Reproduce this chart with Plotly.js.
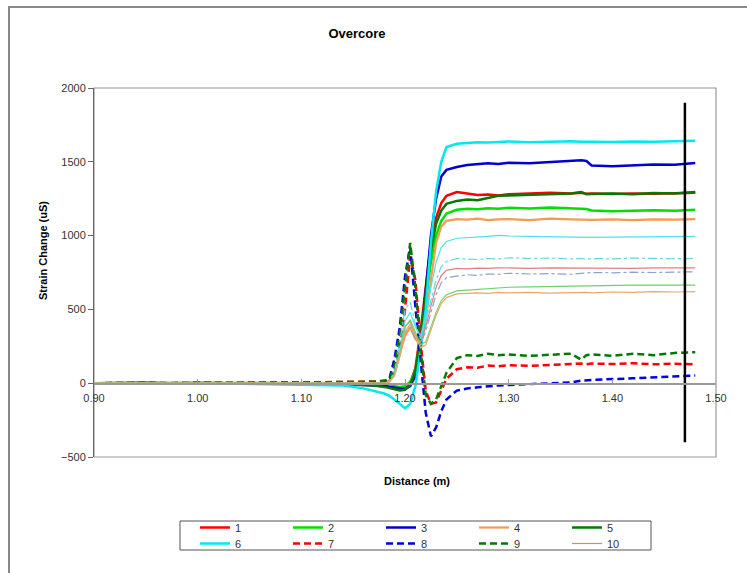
<!DOCTYPE html>
<html>
<head>
<meta charset="utf-8">
<script src="https://cdn.plot.ly/plotly-3.0.1.min.js"></script>
<style>html,body{margin:0;padding:0;background:#fff;}#chart{width:747px;height:573px;}</style>
</head>
<body>
<div id="chart"></div>
<script>
// Distance (m)
const distance = [0.90,0.95,1.00,1.05,1.10,1.14,1.16,1.17,1.18,1.185,
                  1.19,1.195,1.20,1.205,1.21,1.215,1.22,1.225,1.23,1.235,
                  1.24,1.25,1.26,1.27,1.28,1.29,1.30,1.32,1.34,1.36,
                  1.37,1.375,1.38,1.40,1.42,1.44,1.46,1.48];

const s1 = [0,3,-2,2,0,-5,-8,-10,-15,-20,
            -25,-30,-25,0,100,350,650,950,1120,1220,
            1270,1295,1285,1275,1278,1272,1280,1285,1290,1286,
            1290,1283,1285,1282,1286,1283,1288,1290];
const s2 = [0,-2,3,0,2,-3,-5,-8,-12,-15,
            -20,-25,-20,10,80,300,550,820,1000,1100,
            1150,1175,1182,1178,1186,1182,1188,1184,1190,1186,
            1185,1180,1170,1165,1168,1172,1168,1175];
const s3 = [0,2,-3,0,-2,-5,-10,-12,-18,-25,
            -30,-38,-40,-20,50,250,600,1000,1250,1400,
            1445,1465,1478,1482,1490,1485,1493,1490,1498,1502,
            1510,1505,1475,1470,1478,1482,1480,1492];
const s4 = [0,0,2,-2,0,-3,-5,-5,0,20,
            80,200,320,380,300,260,420,700,950,1060,
            1100,1112,1108,1115,1105,1110,1112,1105,1115,1110,
            1108,1112,1106,1110,1105,1110,1108,1112];
const s5 = [0,-2,2,0,-3,-8,-12,-15,-25,-35,
            -42,-50,-45,-10,80,320,600,900,1080,1170,
            1215,1235,1245,1240,1255,1270,1272,1275,1280,1285,
            1295,1280,1282,1285,1280,1288,1285,1295];
const s6 = [0,-3,0,-5,-8,-15,-35,-50,-70,-85,
            -110,-140,-170,-140,-20,220,500,950,1300,1500,
            1600,1622,1628,1632,1630,1635,1638,1632,1636,1640,
            1635,1638,1636,1634,1638,1636,1640,1642];
const s7 = [0,2,-3,0,5,5,8,10,12,15,
            80,250,500,860,700,280,-50,-140,-130,-50,
            30,95,108,105,120,115,122,118,125,130,
            133,128,133,130,135,128,132,128];
const s8 = [0,-2,3,0,2,5,3,5,12,30,
            170,380,720,925,520,150,-200,-360,-300,-190,
            -110,-50,-36,-28,-20,-15,-12,-6,0,5,
            18,20,25,28,33,38,42,52];
const s9 = [0,3,0,-2,5,5,8,10,18,20,
            120,330,650,950,650,230,-80,-140,-110,-20,
            70,170,190,185,200,190,195,185,195,200,
            160,190,195,185,200,190,205,210];
const s10 = [0,0,0,0,0,-3,-5,-5,0,10,
             60,200,380,420,320,280,380,520,650,730,
             765,778,775,780,778,782,780,778,782,780,
             778,780,782,780,778,782,780,782];
const s11 = [0,0,0,0,-2,-5,-8,-8,-5,10,
             60,220,420,480,380,320,450,650,820,920,
             960,982,985,990,995,1002,998,995,992,990,
             992,990,988,990,992,990,992,995];
const s12 = [0,0,0,0,0,-3,-5,-5,0,15,
             80,280,500,550,400,300,420,560,700,790,
             825,845,840,838,845,842,850,845,848,842,
             845,840,845,842,848,845,843,845];
const s13 = [0,0,0,0,0,-3,-5,-5,0,10,
             50,180,340,380,300,270,350,480,600,680,
             715,725,735,730,740,738,745,740,742,738,
             745,748,750,748,752,750,752,755];
const s14 = [0,0,0,0,0,-3,-5,-5,0,10,
             60,200,380,430,350,260,280,380,480,560,
             600,625,630,632,640,645,650,652,655,658,
             660,660,662,662,664,665,665,665];
const s15 = [0,0,0,0,0,-3,-5,-5,0,8,
             50,180,350,400,320,240,260,360,460,540,
             580,605,610,612,608,615,612,615,610,615,
             618,615,612,618,615,620,618,620];

const seriesNames = ['1','2','3','4','5','6','7','8','9','10','11','12','13','14','15'];
const seriesValues = [s1,s2,s3,s4,s5,s6,s7,s8,s9,s10,s11,s12,s13,s14,s15];

// marker line (position of the vertical black line)
const markerX = [1.47, 1.47];
const markerY = [1900, -400];

const xTicks = [0.90,1.00,1.10,1.20,1.30,1.40,1.50];
const yTicks = [-500,0,500,1000,1500,2000];

const styles = [
  {color:'#ff0000', width:2.5, dash:'solid'},
  {color:'#00e000', width:2.5, dash:'solid'},
  {color:'#0000d0', width:2.5, dash:'solid'},
  {color:'#f59a50', width:2.2, dash:'solid'},
  {color:'#007a00', width:2.5, dash:'solid'},
  {color:'#00e8f0', width:2.5, dash:'solid'},
  {color:'#ff0000', width:2.5, dash:'7px,4px'},
  {color:'#0000e0', width:2.5, dash:'7px,4px'},
  {color:'#007a00', width:2.5, dash:'7px,4px'},
  {color:'#e08080', width:1.2, dash:'solid'},
  {color:'#50e0e8', width:1.2, dash:'solid'},
  {color:'#60d8e0', width:1.2, dash:'dashdot'},
  {color:'#8aa4d0', width:1.2, dash:'dashdot'},
  {color:'#70d070', width:1.2, dash:'solid'},
  {color:'#e8a868', width:1.2, dash:'solid'}
];

const font = 'Liberation Sans, Arial, sans-serif';
const traces = seriesValues.map((v,i)=>({
  type:'scatter', mode:'lines', x:distance, y:v, name:seriesNames[i],
  line:{color:styles[i].color, width:styles[i].width, dash:styles[i].dash},
  showlegend: i < 10, legend: i < 5 ? 'legend' : 'legend2', hoverinfo:'skip'
}));
traces.push({type:'scatter', mode:'lines', x:markerX, y:markerY, showlegend:false,
  line:{color:'#000', width:2.5}, hoverinfo:'skip'});

const legendBase = {orientation:'h', xref:'container', yref:'container', x:195/747, xanchor:'left',
  yanchor:'top', borderwidth:0, bgcolor:'rgba(0,0,0,0)',
  font:{family:font, size:11, color:'#333'},
  entrywidth:48, entrywidthmode:'pixels', traceorder:'normal'};

const layout = {
  width:747, height:573,
  margin:{l:94, r:31, t:88, b:116, pad:0, autoexpand:false},
  paper_bgcolor:'#fff', plot_bgcolor:'#fff',
  showlegend:true,
  title:{text:'<b>Overcore</b>', font:{family:font, size:13, color:'#000'},
    x:357/747, xref:'container', xanchor:'center', y:1-33/573, yref:'container', yanchor:'middle'},
  xaxis:{range:[0.9,1.5], tickvals:xTicks, tickformat:'.2f', showgrid:false, zeroline:false,
    showline:true, linecolor:'#999', linewidth:1.5, anchor:'free', position:0.2,
    ticks:'inside', ticklen:4, tickcolor:'#999', ticklabelstandoff:4,
    tickfont:{family:font, size:11, color:'#333'}},
  yaxis:{range:[-500,2000], tickvals:yTicks, showgrid:false, zeroline:false,
    showline:true, linecolor:'#666', linewidth:1, ticks:'outside', ticklen:5, tickcolor:'#666',
    tickfont:{family:font, size:11, color:'#333'}},
  legend:Object.assign({}, legendBase, {y:1-513/573}),
  legend2:Object.assign({}, legendBase, {y:1-529/573}),
  annotations:[
    {text:'<b>Distance (m)</b>', xref:'paper', yref:'paper', x:(417-94)/622, y:(457-481)/369,
     xanchor:'center', yanchor:'middle', showarrow:false, font:{family:font, size:11, color:'#000'}},
    {text:'<b>Strain Change (uS)</b>', xref:'paper', yref:'paper', x:(43-94)/622, y:(457-251)/369,
     xanchor:'center', yanchor:'middle', textangle:-90, showarrow:false, font:{family:font, size:11, color:'#000'}}
  ],
  shapes:[
    {type:'rect', xref:'paper', yref:'paper', x0:0, x1:1, y0:0, y1:1, line:{color:'#999', width:1.2}, layer:'below'},
    {type:'rect', xref:'paper', yref:'paper', x0:(9-94)/622, x1:2, y0:-2, y1:(457-7)/369, line:{color:'#888', width:2}, layer:'below'},
    {type:'rect', xref:'paper', yref:'paper', x0:(180-94)/622, x1:(651-94)/622, y0:(457-550)/369, y1:(457-521)/369,
     line:{color:'#555', width:1}, layer:'below'}
  ]
};

Plotly.newPlot('chart', traces, layout, {staticPlot:true, displayModeBar:false});
</script>
</body>
</html>
